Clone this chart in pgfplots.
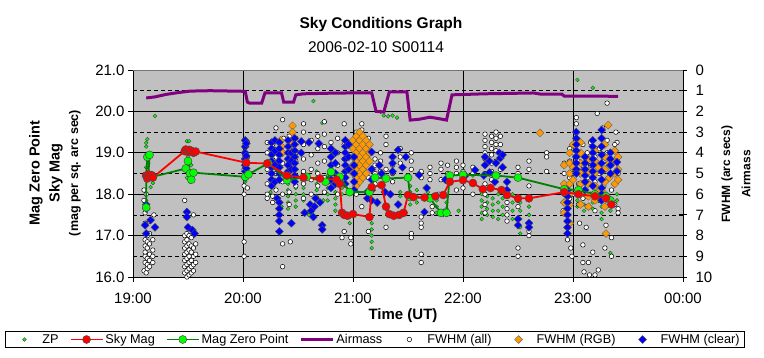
\documentclass[border=0pt]{standalone}
\usepackage{fontspec}
\setmainfont{Liberation Sans}
\usepackage{pgfplots}
\pgfplotsset{compat=1.18}
\definecolor{bggray}{RGB}{192,192,192}
\definecolor{zpgreen}{RGB}{0,255,0}
\definecolor{dkgreen}{RGB}{0,128,0}
\definecolor{airpurple}{RGB}{128,0,128}
\definecolor{rgborange}{RGB}{255,153,0}
\definecolor{clearblue}{RGB}{0,0,255}
\definecolor{skyred}{RGB}{255,0,0}
\pgfplotsset{
  myleg/.style={legend image code/.code={\path[draw=none,fill=none] (0pt,-3pt) rectangle (32pt,3pt); \draw[mark repeat=2,mark phase=2,##1] plot coordinates {(0pt,0pt) (16pt,0pt) (32pt,0pt)};}},
  common/.style={scale only axis, width=550pt, height=207pt, xmin=19, xmax=24, at={(0pt,0pt)}, anchor=south west},
  zpstyle/.style={only marks, mark=*, mark size=1.9pt, mark options={fill=zpgreen, draw=black!75, line width=0.4pt}},
  skystyle/.style={color=skyred, line width=1.8pt, mark=*, mark size=4pt, mark options={fill=skyred, draw=black!70, line width=0.5pt}},
  mzpstyle/.style={color=dkgreen, line width=1.8pt, mark=*, mark size=4pt, mark options={fill=zpgreen, draw=black!70, line width=0.5pt}},
  airstyle/.style={color=airpurple, line width=3pt, no marks},
  allstyle/.style={only marks, mark=*, mark size=2.3pt, mark options={fill=white, draw=black, line width=0.5pt}},
  rgbstyle/.style={only marks, mark=square*, mark size=2.8pt, mark options={rotate=45, fill=rgborange, draw=black!60, line width=0.4pt}},
  clearstyle/.style={only marks, mark=square*, mark size=2.8pt, mark options={rotate=45, fill=clearblue, draw=black!70, line width=0.4pt}},
}
\begin{document}
\begin{tikzpicture}
\path[use as bounding box] (-133pt,-81pt) rectangle (631pt,277pt);
% ---------- axis 1: left axis, background, grid, ZP dots
\begin{axis}[common, ymin=16, ymax=21,
  axis background/.style={fill=bggray},
  xtick={19,20,21,22,23,24}, xticklabels={19:00,20:00,21:00,22:00,23:00,00:00},
  ytick={16,17,18,19,20,21}, yticklabels={16.0,17.0,18.0,19.0,20.0,21.0},
  minor ytick={16.5,17.5,18.5,19.5,20.5},
  xmajorgrids, ymajorgrids, yminorgrids,
  major grid style={black, line width=0.8pt},
  minor grid style={black, line width=0.7pt, dash pattern=on 4pt off 3pt},
  xtick pos=left, ytick pos=left,
  tick align=outside, major tick length=5pt, minor tick length=0pt,
  every tick/.style={black, line width=0.8pt},
  axis line style={black, line width=0.8pt},
  tick label style={font=\fontsize{15}{18}\selectfont},
  xticklabel style={yshift=-7pt},
  /pgf/number format/assume math mode=true,
]
\addplot[zpstyle, forget plot] coordinates {
(19.13,19.33)(19.12,19.24)(19.12,19.15)(19.20,19.89)(19.18,18.27)(19.16,18.17)(19.12,18.65)(19.14,18.75)(19.12,17.85)
(19.49,19.28)(19.51,19.28)(19.50,18.9)(19.50,18.6)(19.52,18.3)(19.53,18.7)(19.49,18.4)
(20.02,18.3)(20.03,18.55)
(20.25,18.65)(20.25,18.5)(20.25,18.35)(20.25,18.2)(20.25,18.05)
(20.41,18.55)(20.41,18.4)(20.41,18.25)(20.41,18.1)(20.41,17.95)(20.41,17.8)(20.41,17.65)
(20.48,18.45)(20.48,18.3)(20.48,18.15)(20.48,18.0)(20.48,17.85)(20.48,17.7)
(20.55,18.45)(20.55,18.3)(20.55,18.15)(20.55,18.0)(20.55,17.85)
(20.67,18.55)(20.67,18.4)(20.67,18.25)(20.67,18.1)(20.67,17.95)
(20.77,18.45)(20.77,18.3)(20.77,18.15)(20.77,18.0)(20.77,17.85)
(20.84,18.35)(20.84,18.2)(20.84,18.05)(20.84,17.9)(20.84,17.75)(20.84,17.6)
(20.90,18.3)(20.90,18.15)(20.90,18.0)
(20.64,20.25)(20.72,19.72)(20.73,17.85)(20.97,17.3)(20.35,17.7)(20.60,17.5)(20.30,17.9)
(21.17,17.3)(21.17,17.15)(21.17,17.0)(21.17,16.85)(21.17,16.7)
(21.22,17.85)(21.22,17.75)
(21.43,18.05)(21.43,17.95)
(21.52,18.2)(21.52,18.05)(21.52,17.9)(21.52,17.75)
(21.58,18.1)(21.58,17.95)(21.58,17.8)
(21.68,18.05)(21.68,17.9)
(21.76,17.85)(21.76,17.7)(21.76,17.55)
(21.85,17.95)(21.85,17.8)(21.85,17.65)(21.85,17.5)
(21.25,19.99)(21.28,19.9)(21.32,19.88)(21.36,19.9)(21.40,19.85)
(21.96,17.6)
(22.00,18.7)(22.00,18.5)(22.09,18.6)(22.09,18.45)
(22.17,18.0)(22.17,17.85)(22.17,17.7)(22.17,17.55)(22.17,17.4)
(22.22,17.95)(22.22,17.8)(22.22,17.65)(22.22,17.5)
(22.27,17.9)(22.27,17.75)(22.27,17.6)(22.27,17.45)
(22.32,18.0)(22.32,17.8)(22.32,17.6)(22.32,17.4)
(22.36,17.9)(22.36,17.7)(22.36,17.5)
(22.45,18.0)(22.45,17.8)(22.45,17.6)(22.45,17.4)
(22.52,17.8)(22.52,17.6)(22.52,17.4)(22.52,17.2)(22.52,17.05)
(22.60,17.7)(22.60,17.5)(22.60,17.3)(22.60,17.15)
(22.95,18.1)(22.95,17.95)(22.95,17.8)(22.95,17.65)(22.95,17.5)
(23.04,18.0)(23.04,17.85)(23.04,17.7)
(23.10,18.05)(23.10,17.9)(23.10,17.75)(23.10,17.6)
(23.18,17.95)(23.18,17.8)(23.18,17.65)
(23.26,18.0)(23.26,17.85)(23.26,17.7)(23.26,17.55)(23.26,17.4)
(23.34,17.9)(23.34,17.75)(23.34,17.6)
(23.40,18.0)(23.40,17.85)
(23.04,20.76)(23.18,20.57)(23.34,16.58)
};
\end{axis}
% ---------- axis 2: right axis (Airmass, FWHM)
\begin{axis}[common, ymin=0, ymax=10, y dir=reverse,
  hide x axis, axis y line*=right,
  axis line style={-, black, line width=0.8pt},
  ytick={0,1,2,3,4,5,6,7,8,9,10}, ytick pos=right,
  tick align=center, major tick length=8pt,
  every tick/.style={black, line width=0.8pt},
  tick label style={font=\fontsize{15}{18}\selectfont},
  yticklabel style={xshift=5pt},
  /pgf/number format/assume math mode=true,
]
\addplot[airstyle, forget plot] coordinates {
(19.12,1.35)(19.20,1.30)(19.30,1.18)(19.40,1.10)(19.52,1.02)(19.70,1.00)(20.02,1.03)(20.04,1.55)(20.06,1.60)(20.17,1.60)(20.20,1.10)
(20.35,1.10)(20.37,1.55)(20.46,1.55)(20.48,1.20)(20.55,1.15)(20.80,1.12)(21.10,1.10)(21.17,1.10)(21.21,2.00)(21.28,2.03)(21.33,1.06)
(21.49,1.06)(21.52,2.42)(21.60,2.38)(21.70,2.28)(21.78,2.35)(21.85,2.42)(21.90,1.20)(22.20,1.15)(22.64,1.11)(22.70,1.16)(22.90,1.17)
(22.92,1.26)(23.41,1.27)
};
\addplot[allstyle, forget plot] coordinates {
(19.10,5.8)(19.10,6.3)(19.11,6.9)(19.11,7.4)(19.11,8.2)(19.11,8.5)(19.11,8.8)(19.11,9.0)(19.11,9.3)(19.10,9.7)
(19.13,8.0)(19.13,8.3)(19.13,8.6)(19.13,9.1)(19.13,9.4)(19.13,9.6)(19.12,9.8)(19.12,6.0)
(19.15,7.3)(19.15,7.9)(19.15,8.4)(19.15,8.9)(19.15,9.2)(19.15,9.5)
(19.18,8.2)(19.18,8.7)(19.18,9.0)(19.18,9.3)(19.19,7.0)
(19.47,6.3)(19.47,8.0)(19.47,8.3)(19.47,8.6)(19.47,8.9)(19.47,9.2)(19.47,9.5)(19.47,9.8)
(19.49,7.9)(19.49,8.2)(19.49,8.5)(19.49,8.8)(19.49,9.1)(19.49,9.4)(19.49,9.7)(19.49,10.0)
(19.51,8.0)(19.51,8.4)(19.51,8.7)(19.51,9.0)(19.51,9.3)(19.51,9.6)(19.51,9.9)
(19.53,8.1)(19.53,8.5)(19.53,8.8)(19.53,9.2)(19.53,9.5)(19.53,9.8)
(19.55,7.0)(19.55,8.6)(19.55,9.0)(19.55,9.4)(19.55,9.7)
(19.57,8.4)(19.57,8.9)(19.57,9.3)
(20.01,3.4)(20.01,3.7)(20.01,4.0)(20.01,4.4)(20.01,4.8)(20.01,5.2)(20.01,5.6)(20.01,6.0)(20.01,8.3)(20.01,9.0)
(20.04,3.5)(20.04,4.2)(20.04,5.0)(20.04,5.7)
(20.22,3.5)(20.22,4.0)(20.22,4.8)(20.22,5.5)(20.22,6.0)(20.22,6.2)
(20.27,6.4)(20.27,6.1)(20.27,3.6)
(20.30,2.8)(20.30,4.2)(20.30,5.0)(20.30,5.8)(20.36,8.4)(20.36,9.5)
(20.36,2.4)(20.37,3.3)(20.36,4.5)(20.36,5.4)(20.36,6.0)(20.43,8.3)
(20.42,3.2)(20.42,3.8)(20.42,4.6)(20.42,5.2)(20.42,5.9)(20.42,6.5)
(20.48,3.3)(20.48,4.0)(20.48,4.4)(20.48,5.1)(20.48,5.6)
(20.55,2.6)(20.55,3.0)(20.55,3.6)(20.55,4.3)(20.55,4.9)(20.55,5.5)(20.55,6.2)
(20.62,3.4)(20.62,4.1)(20.62,4.8)(20.62,5.3)(20.62,6.0)
(20.68,3.2)(20.68,3.8)(20.68,4.5)(20.68,5.0)(20.68,5.6)
(20.74,2.5)(20.74,3.1)(20.74,3.7)(20.74,4.4)(20.74,5.2)(20.74,5.9)
(20.80,3.5)(20.80,4.2)(20.80,4.9)(20.80,5.4)
(20.86,3.3)(20.86,4.0)(20.86,4.6)(20.86,5.3)(20.86,6.0)(20.90,8.1)(20.92,7.8)
(20.92,2.6)(20.92,3.6)(20.92,4.3)(20.92,5.0)
(21.03,3.0)(21.03,3.4)(21.03,6.0)(20.98,8.1)(20.98,8.4)
(21.08,2.6)(21.08,2.9)(21.08,6.6)
(21.14,3.3)(21.14,4.0)(21.14,5.2)(21.14,7.8)
(21.20,4.3)(21.20,4.6)(21.20,5.0)(21.20,5.5)
(21.25,4.0)(21.25,4.4)(21.25,4.9)
(21.30,3.2)(21.30,3.6)(21.30,4.8)(21.30,7.6)
(21.36,4.6)(21.36,5.0)(21.36,5.4)
(21.43,3.8)(21.43,4.2)(21.43,4.5)
(21.53,4.0)(21.53,4.4)(21.53,4.8)(21.53,7.9)(21.53,8.1)
(21.62,4.9)(21.62,5.2)(21.62,7.1)(21.62,7.4)(21.62,7.6)(21.62,8.9)(21.62,9.3)
(21.70,4.7)(21.70,5.0)(21.70,5.3)(21.72,6.6)(21.72,6.9)
(21.80,4.5)(21.80,4.8)(21.80,5.3)(21.78,6.0)
(21.86,4.6)(21.86,5.0)(21.86,5.4)
(21.94,4.4)(21.94,4.7)(21.94,5.0)(21.94,5.8)
(22.00,4.6)(22.00,4.9)(22.00,5.3)(22.00,5.7)
(22.09,4.7)(22.09,5.0)(22.09,5.4)(22.09,6.0)
(22.20,3.1)(22.20,3.4)(22.20,3.7)(22.20,4.0)(22.20,4.3)(22.20,4.6)(22.20,5.0)(22.20,5.5)(22.20,6.0)(22.20,6.5)(22.20,6.9)
(22.26,3.2)(22.26,3.5)(22.26,3.8)(22.26,4.1)(22.26,4.5)(22.26,4.9)(22.26,5.3)(22.26,5.7)
(22.30,3.0)(22.30,3.3)(22.30,3.6)(22.30,3.9)(22.30,4.4)(22.30,5.1)
(22.34,3.2)(22.34,3.6)(22.34,4.2)(22.34,4.8)
(22.40,6.4)(22.40,6.7)(22.40,7.0)(22.40,7.3)
(22.50,4.7)(22.50,5.0)(22.50,6.3)(22.50,6.6)(22.50,8.6)(22.50,9.0)
(22.60,4.4)(22.60,4.8)(22.60,5.6)(22.60,7.6)(22.60,7.8)(22.60,8.0)
(22.76,4.0)(22.76,4.2)(22.76,4.9)
(23.03,2.3)(23.03,2.6)(23.22,2.1)(23.31,1.6)(23.27,2.8)(23.39,3.0)(23.40,3.5)(23.06,7.4)(23.12,7.6)(22.95,8.2)
(23.09,8.45)(23.18,8.8)(23.29,8.6)(23.35,9.0)(23.09,9.3)(23.14,9.3)(23.23,9.66)(23.10,9.75)(23.15,9.9)(23.20,9.9)
(22.99,9.0)(22.98,8.6)(23.35,8.1)(23.41,6.7)(23.41,6.9)(23.30,7.5)(22.94,7.0)(22.91,6.8)
(22.92,4.5)(22.92,5.0)(22.92,6.0)(22.97,3.8)(22.97,4.4)(22.97,5.2)(22.97,6.2)(23.00,4.0)(23.00,5.0)(23.00,6.0)
(23.05,4.4)(23.05,5.5)(23.05,6.5)(23.09,3.6)(23.09,4.8)(23.09,6.2)(23.13,4.0)(23.13,5.2)(23.13,6.6)(23.16,3.5)
(23.16,4.6)(23.16,6.0)(23.20,4.2)(23.20,5.4)(23.20,6.8)(23.24,3.8)(23.24,5.0)(23.24,6.3)(23.28,4.4)(23.28,5.6)
(23.31,3.4)(23.31,4.0)(23.31,6.2)(23.35,4.6)(23.35,5.8)(23.38,3.6)(23.38,6.5)(23.41,5.0)
};
\addplot[rgbstyle, forget plot] coordinates {
(20.34,3.4)(20.35,3.7)(20.36,4.0)(20.45,2.7)(20.45,3.0)(20.46,3.3)(20.44,3.6)(20.47,3.9)(20.45,4.2)(20.43,4.5)
(21.00,3.4)(21.00,3.8)(21.00,4.2)(21.00,4.6)(21.00,5.0)
(21.03,3.2)(21.03,3.6)(21.03,4.0)(21.03,4.4)(21.03,4.8)(21.03,5.2)(21.03,5.6)
(21.06,3.0)(21.06,3.4)(21.06,3.8)(21.06,4.2)(21.06,4.6)(21.06,5.0)(21.06,5.4)
(21.09,3.2)(21.09,3.6)(21.09,4.0)(21.09,4.4)(21.09,4.8)(21.09,5.2)
(21.12,3.4)(21.12,3.8)(21.12,4.2)(21.12,4.6)(21.12,5.0)
(21.15,3.6)(21.15,4.0)(21.15,4.4)
(22.70,3.04)(23.30,7.9)(23.32,2.66)
(22.92,4.6)(22.92,5.5)(22.92,5.9)(22.92,6.4)(22.92,6.9)
(22.97,4.0)(22.97,4.5)(22.97,5.0)(22.97,5.5)(22.97,6.0)(22.97,6.5)(22.97,7.4)
(23.00,3.6)(23.00,4.7)(23.00,5.3)
(23.07,3.5)(23.07,4.0)(23.07,4.5)(23.07,5.0)(23.07,5.5)(23.07,6.0)(23.07,6.5)
(23.14,4.3)(23.14,4.9)(23.14,5.5)(23.14,6.1)(23.14,6.6)
(23.20,3.9)(23.20,4.4)(23.20,5.0)(23.20,5.6)(23.20,6.3)
(23.23,4.7)(23.23,5.9)
(23.29,3.6)(23.29,4.2)(23.29,4.8)(23.29,5.4)(23.29,6.0)(23.29,6.6)
(23.33,4.5)(23.33,5.2)
(23.38,3.9)(23.38,4.4)(23.38,5.0)(23.38,5.5)
(23.41,4.2)(23.41,4.8)(23.41,5.3)
};
\addplot[clearstyle, forget plot] coordinates {
(19.12,6.5)(19.12,6.7)(19.16,7.25)(19.11,7.5)(19.20,7.6)(19.12,7.9)
(19.49,6.86)(19.49,7.1)(19.50,7.6)(19.54,7.73)(19.56,7.9)
(20.02,3.4)(20.02,3.7)(20.02,4.0)(20.02,4.3)(20.02,4.6)(20.02,4.9)(20.02,5.2)(20.03,3.55)(20.03,4.15)(20.03,4.75)
(20.26,3.5)(20.26,3.8)(20.26,4.1)(20.26,4.4)(20.26,4.7)(20.26,5.0)(20.26,5.3)(20.26,5.6)
(20.29,3.4)(20.29,3.9)(20.29,4.6)(20.29,5.4)(20.31,6.2)
(20.33,3.5)(20.33,3.8)(20.33,4.1)(20.33,4.4)(20.33,4.7)(20.33,5.0)(20.33,5.3)(20.33,6.4)(20.33,6.7)(20.33,7.0)(20.33,7.3)(20.33,7.8)
(20.41,3.4)(20.41,3.7)(20.41,4.0)(20.41,4.3)(20.41,4.6)(20.41,4.9)(20.41,5.2)
(20.44,4.0)(20.44,4.4)(20.44,4.8)(20.44,7.4)
(20.47,3.3)(20.47,3.6)(20.47,3.9)(20.47,4.2)(20.47,4.5)(20.47,4.8)(20.47,5.1)(20.47,5.4)
(20.53,3.45)(20.53,4.0)
(20.56,6.9)(20.60,3.5)(20.61,6.5)(20.62,6.8)(20.64,7.1)(20.65,6.6)(20.66,6.2)(20.70,6.4)(20.69,3.55)(20.72,7.5)(20.72,7.7)
(20.80,3.8)(20.80,4.2)(20.80,4.6)(20.80,5.0)(20.80,5.3)(20.80,5.7)
(20.84,4.0)(20.84,4.5)(20.84,5.0)(20.84,5.5)
(20.93,3.4)(20.93,3.7)(20.93,4.0)(20.93,4.3)(20.93,4.6)(20.93,4.9)(20.93,5.2)(20.93,5.5)
(20.96,3.6)(20.96,4.2)(20.96,4.8)
(21.01,4.2)(21.01,4.6)(21.01,5.0)(21.01,5.4)(21.01,5.8)
(21.13,5.9)(21.13,6.2)
(21.17,3.96)(21.17,4.8)(21.17,5.3)(21.17,5.8)(21.17,6.3)
(21.22,6.4)(21.24,4.6)(21.26,5.0)(21.29,5.9)(21.34,6.0)
(21.36,4.2)(21.36,4.5)(21.36,4.9)
(21.41,3.86)(21.41,6.5)(21.45,4.7)(21.48,4.2)
(21.60,5.07)(21.65,6.86)(21.67,5.7)(21.82,6.9)(21.84,5.3)
(22.02,5.1)(22.11,4.83)(22.19,5.1)(22.20,4.2)(22.20,4.6)(22.24,4.4)(22.24,4.95)(22.29,5.4)(22.30,4.5)(22.33,4.0)
(22.34,4.25)(22.36,4.1)(22.36,4.7)(22.40,5.4)(22.40,5.8)(22.50,7.2)(22.50,7.5)(22.60,7.4)(22.60,7.6)
(22.95,5.8)(22.95,6.1)(22.95,6.4)(22.95,6.7)(22.95,7.0)(22.95,7.3)(22.95,7.6)(22.95,7.9)
(23.03,3.0)(23.03,3.3)(23.03,3.6)(23.03,3.9)(23.03,4.2)(23.03,4.5)(23.03,4.8)(23.03,5.0)
(23.11,4.2)(23.11,4.5)(23.11,4.8)(23.11,5.1)(23.11,5.4)(23.11,5.8)
(23.18,3.4)(23.18,3.7)(23.18,4.0)(23.18,4.3)(23.18,4.6)(23.18,4.9)(23.18,5.2)(23.18,5.6)
(23.26,2.9)(23.26,3.3)(23.26,3.7)(23.26,4.1)(23.26,4.5)(23.26,4.9)(23.26,5.3)(23.26,5.7)(23.26,6.0)(23.26,6.3)
(23.34,4.0)(23.34,4.3)(23.34,4.6)(23.34,5.0)
(23.40,4.45)(23.40,4.9)
};
\end{axis}
% ---------- axis 3: left axis lines with markers + legend
\begin{axis}[common, ymin=16, ymax=21, hide axis,
  legend columns=7,
  legend style={at={(0.44,-0.302)}, anchor=center, draw=black, line width=0.8pt, fill=white,
    font=\fontsize{12.7}{15}\selectfont, inner xsep=3pt, inner ysep=1pt,
    /tikz/every even column/.append style={column sep=9pt}},
  legend cell align=left,
]
\addplot[mzpstyle, forget plot] coordinates {
(19.12,17.68)(19.12,18.45)(19.13,18.90)(19.15,18.95)(19.14,18.45)(19.18,18.42)(19.48,18.62)(19.50,18.80)(19.52,18.50)
(19.53,18.35)(19.55,18.52)(20.02,18.42)(20.05,18.48)(20.23,18.75)(20.40,18.34)(20.58,18.42)(20.75,18.30)(20.80,18.54)
(20.88,18.42)(20.97,18.05)(21.15,18.05)(21.20,18.40)(21.30,18.38)(21.50,18.40)(21.52,17.93)(21.70,17.90)(21.80,17.55)
(21.85,17.55)(21.88,18.45)(22.00,18.47)(22.30,18.45)(22.50,18.40)(22.92,18.12)(23.05,18.10)(23.20,18.00)(23.30,17.95)
(23.34,17.85)
};
\addplot[skystyle, forget plot] coordinates {
(19.12,18.45)(19.13,18.38)(19.14,18.48)(19.15,18.42)(19.17,18.46)(19.18,18.40)(19.47,19.04)(19.48,19.08)(19.50,19.02)
(19.51,19.07)(19.53,19.05)(19.55,19.00)(19.57,19.03)(20.03,18.76)(20.22,18.74)(20.40,18.45)(20.55,18.40)(20.70,18.38)
(20.85,18.35)(20.88,18.25)(20.90,17.55)(20.92,17.50)(20.95,17.48)(21.00,17.52)(21.15,17.45)(21.17,18.17)(21.26,18.22)
(21.30,17.70)(21.33,17.52)(21.37,17.48)(21.42,17.50)(21.46,17.55)(21.50,17.98)(21.55,17.93)(21.65,17.92)(21.75,17.95)
(21.82,17.98)(21.88,18.30)(22.00,18.34)(22.09,18.27)(22.18,18.12)(22.25,18.15)(22.35,18.10)(22.40,17.98)(22.50,17.90)
(22.60,17.90)(22.92,18.05)(23.05,18.00)(23.20,17.95)(23.30,17.90)(23.35,17.75)
};
\addlegendimage{zpstyle, myleg}\addlegendentry{ZP}
\addlegendimage{skystyle, myleg}\addlegendentry{Sky Mag}
\addlegendimage{mzpstyle, myleg}\addlegendentry{Mag Zero Point}
\addlegendimage{airstyle, myleg}\addlegendentry{Airmass}
\addlegendimage{allstyle, myleg}\addlegendentry{FWHM (all)}
\addlegendimage{rgbstyle, myleg}\addlegendentry{FWHM (RGB)}
\addlegendimage{clearstyle, myleg}\addlegendentry{FWHM (clear)}
\end{axis}
\draw[black!55, line width=0.8pt] (0pt,207pt) -- (550pt,207pt);
\node[font=\fontsize{15.5}{18}\bfseries\selectfont] at (248pt,253pt) {Sky Conditions Graph};
\node[font=\fontsize{15.5}{18}\selectfont] at (243pt,230pt) {2006-02-10 S00114};
\node[font=\fontsize{15}{18}\bfseries\selectfont] at (270pt,-39pt) {Time (UT)};
\node[rotate=90, font=\fontsize{14.5}{17}\bfseries\selectfont] at (-97pt,104pt) {Mag Zero Point};
\node[rotate=90, font=\fontsize{14.5}{17}\bfseries\selectfont] at (-77pt,104pt) {Sky Mag};
\node[rotate=90, font=\fontsize{12.5}{15}\bfseries\selectfont] at (-58pt,104pt) {(mag per sq. arc sec)};
\node[rotate=90, font=\fontsize{12}{14}\bfseries\selectfont] at (594pt,103pt) {FWHM (arc secs)};
\node[rotate=90, font=\fontsize{12}{14}\bfseries\selectfont] at (613pt,103pt) {Airmass};
\end{tikzpicture}
\end{document}
